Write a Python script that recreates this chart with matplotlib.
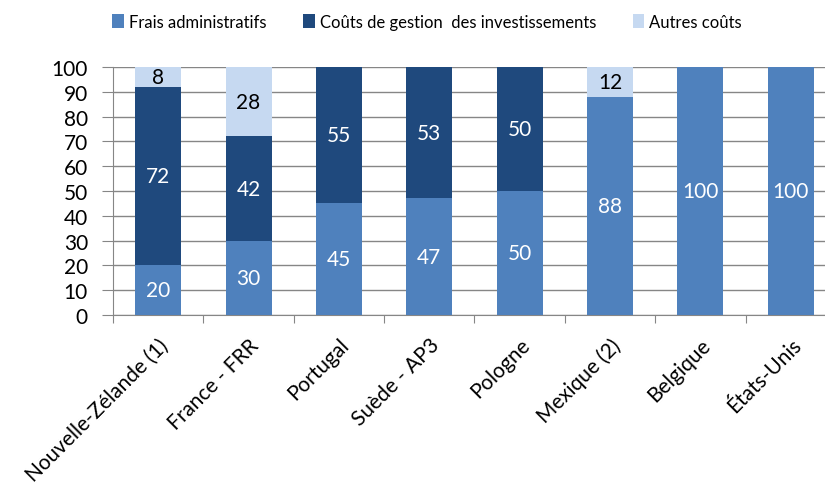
import numpy as np
from matplotlib import pyplot as plt

pays = ["Nouvelle-Zélande (1)", "France - FRR", "Portugal", "Suède - AP3",
        "Pologne", "Mexique (2)", "Belgique", "États-Unis"]
frais_admin = [20, 30, 45, 47, 50, 88, 100, 100]
couts_gestion = [72, 42, 55, 53, 50, 0, 0, 0]
autres_couts = [8, 28, 0, 0, 0, 12, 0, 0]

C_ADMIN = "#4F81BD"
C_GEST = "#1F497D"
C_AUTRE = "#C6D9F1"
GRID = "#868686"

plt.rcParams['font.family'] = ['Lato', 'DejaVu Sans']

fig = plt.figure(figsize=(8.25, 4.85), dpi=100)
ax = fig.add_axes([113 / 825, 1 - 316 / 485, 1 - 113 / 825, 248 / 485])

x = np.arange(len(pays))
w = 0.51
a = np.array(frais_admin)
g = np.array(couts_gestion)
o = np.array(autres_couts)

ax.bar(x, a, w, color=C_ADMIN, label="Frais administratifs", zorder=3)
ax.bar(x, g, w, bottom=a, color=C_GEST,
       label="Coûts de gestion  des investissements", zorder=3)
ax.bar(x, o, w, bottom=a + g, color=C_AUTRE, label="Autres coûts", zorder=3)

for i in range(len(pays)):
    if a[i] > 0:
        ax.text(x[i], a[i] / 2, f"{a[i]}", ha="center", va="center",
                color="white", fontsize=15, zorder=4)
    if g[i] > 0:
        ax.text(x[i], a[i] + g[i] / 2, f"{g[i]}", ha="center", va="center",
                color="white", fontsize=15, zorder=4)
    if o[i] > 0:
        ax.text(x[i], a[i] + g[i] + o[i] / 2, f"{o[i]}", ha="center",
                va="center", color="black", fontsize=15, zorder=4)

ax.set_ylim(0, 100)
ax.set_yticks(range(0, 101, 10))
ax.set_xlim(-0.5, 7.5 - 11 / 90.5)
ax.set_xticks(x - 0.5, minor=False)
ax.set_xticks(x, minor=True)
ax.set_xticklabels([])
ax.set_xticklabels(pays, minor=True, rotation=45, ha="right",
                   rotation_mode="anchor", fontsize=15)
ax.tick_params(axis="x", which="minor", length=0, pad=14)
ax.tick_params(axis="x", which="major", length=6, color=GRID, direction="out")
ax.tick_params(axis="y", length=8, color=GRID, labelsize=15, pad=10)
ax.yaxis.grid(True, color=GRID, linewidth=1, zorder=0)
for s in ["top", "right"]:
    ax.spines[s].set_visible(False)
ax.spines["left"].set_color(GRID)
ax.spines["bottom"].set_color(GRID)

fig.legend(loc="upper left", bbox_to_anchor=(97 / 825, 1 - 0 / 485), ncol=3,
           frameon=False, fontsize=12, handlelength=0.7, handleheight=0.9,
           handletextpad=0.3, columnspacing=2.2)

fig.savefig("out.png", dpi=100)
